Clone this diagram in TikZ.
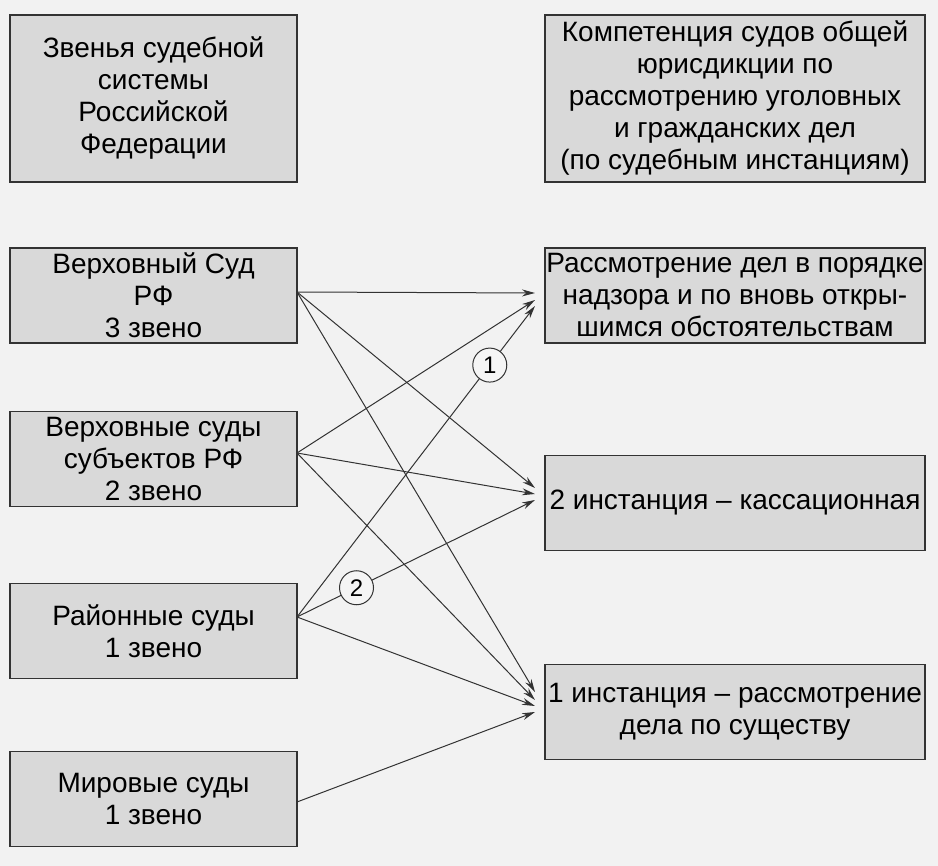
\documentclass[tikz,border=0pt]{standalone}
\usepackage{fontspec}
\setmainfont{Liberation Sans}
\usetikzlibrary{arrows.meta,calc}
\begin{document}
\begin{tikzpicture}[x=1pt,y=-1pt,
  box/.style={draw=black!80,line width=1.8pt,fill=black!15,align=center,font=\fontsize{28}{32}\selectfont,inner sep=0pt},
  arr/.style={-{Stealth[length=13pt,width=7pt]},line width=1pt,draw=black!80},
  num/.style={circle,draw=black!80,fill=black!4,line width=1pt,minimum size=34pt,inner sep=0pt,font=\fontsize{24}{24}\selectfont}]
\fill[black!5] (0,0) rectangle (938,866);
\useasboundingbox (0,0) rectangle (938,866);
\node[box,minimum width=287pt,minimum height=167pt] (L0) at (153.5,98.5) {Звенья судебной\\системы\\Российской\\Федерации};
\node[box,minimum width=287pt,minimum height=95pt] (L1) at (153.5,295.5) {Верховный Суд\\РФ\\3 звено};
\node[box,minimum width=287pt,minimum height=95pt] (L2) at (153.5,459) {Верховные суды\\субъектов РФ\\2 звено};
\node[box,minimum width=287pt,minimum height=95pt] (L3) at (153.5,631) {Районные суды\\1 звено};
\node[box,minimum width=287pt,minimum height=95pt] (L4) at (153.5,799) {Мировые суды\\1 звено};
\node[box,minimum width=380pt,minimum height=167pt] (R0) at (735,98.5) {Компетенция судов общей\\юрисдикции по\\рассмотрению уголовных\\и гражданских дел\\(по судебным инстанциям)};
\node[box,minimum width=380pt,minimum height=95pt] (R1) at (735,295.5) {Рассмотрение дел в порядке\\надзора и по вновь откры-\\шимся обстоятельствам};
\node[box,minimum width=380pt,minimum height=95pt] (R2) at (735,503) {2 инстанция -- кассационная};
\node[box,minimum width=380pt,minimum height=95pt] (R3) at (735,712) {1 инстанция -- рассмотрение\\дела по существу};
\coordinate (s1) at (297,292);
\coordinate (s2) at (297,453);
\coordinate (s3) at (297,617);
\coordinate (s4) at (297,802);
\coordinate (b1) at (535,293);
\coordinate (b2) at (535,300);
\coordinate (b3) at (535,306);
\coordinate (c1) at (535,488);
\coordinate (c2) at (535,494);
\coordinate (c3) at (535,500);
\coordinate (d1) at (535,692);
\coordinate (d2) at (535,700);
\coordinate (d3) at (535,706);
\coordinate (d4) at (535,712);
\draw[arr] (s1) -- (b1);
\draw[arr] (s1) -- (c1);
\draw[arr] (s1) -- (d1);
\draw[arr] (s2) -- (b2);
\draw[arr] (s2) -- (c2);
\draw[arr] (s2) -- (d2);
\draw[arr] (s3) -- (b3);
\draw[arr] (s3) -- (c3);
\draw[arr] (s3) -- (d3);
\draw[arr] (s4) -- (d4);
\node[num] (n1) at ($(s3)!0.81!(b3)$) {1};
\node[num] (n2) at ($(s3)!0.25!(c3)$) {2};
\end{tikzpicture}
\end{document}
